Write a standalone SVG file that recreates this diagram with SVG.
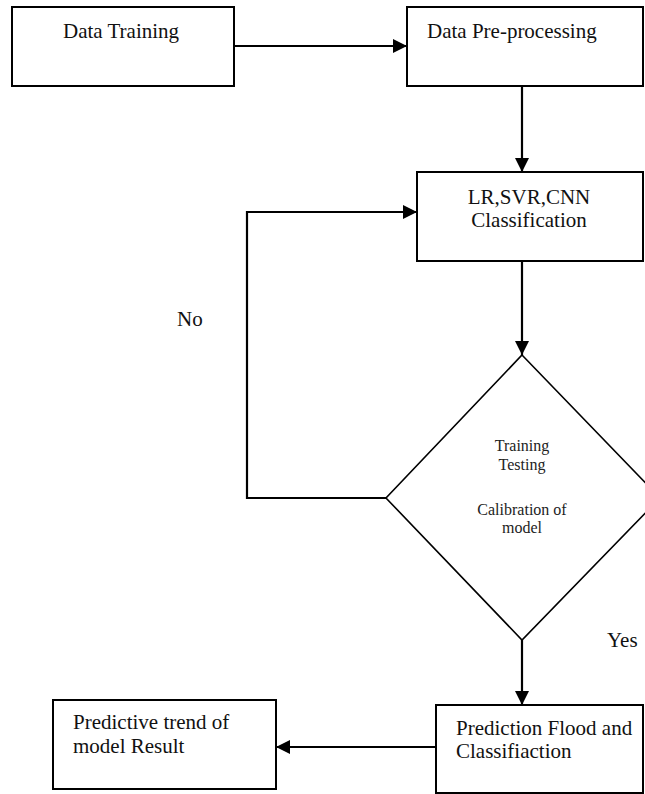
<svg xmlns="http://www.w3.org/2000/svg" width="645" height="794" viewBox="0 0 645 794">
<style>
.box{fill:#fff;stroke:#000;stroke-width:2}
.dia{fill:#fff;stroke:#000;stroke-width:1.6}
.t{font-family:"Liberation Serif","Times New Roman",serif;font-size:21px;fill:#111}
.s{font-family:"Liberation Serif","Times New Roman",serif;font-size:16px;fill:#222;text-anchor:middle}
.c{fill:none;stroke:#000;stroke-width:2.2}
</style>
<defs>
<marker id="ah" viewBox="0 0 14 14" refX="14" refY="7" markerWidth="14" markerHeight="14" markerUnits="userSpaceOnUse" orient="auto">
<path d="M0,0 L14,7 L0,14 Z" fill="#000"/>
</marker>
</defs>
<rect width="645" height="794" fill="#fff"/>
<g id="connectors">
<line class="c" x1="234" y1="46" x2="407" y2="46" marker-end="url(#ah)"/>
<line class="c" x1="522" y1="86" x2="522" y2="172" marker-end="url(#ah)"/>
<line class="c" x1="522" y1="261" x2="522" y2="355" marker-end="url(#ah)"/>
<polyline class="c" points="386,498 247,498 247,212 417,212" marker-end="url(#ah)"/>
<line class="c" x1="522" y1="640" x2="522" y2="705" marker-end="url(#ah)"/>
<line class="c" x1="436" y1="747" x2="276" y2="747" marker-end="url(#ah)"/>
</g>
<g id="n1"><rect class="box" x="12" y="7" width="222" height="79"/><text class="t" x="63" y="38">Data Training</text></g>
<g id="n2"><rect class="box" x="407" y="7" width="236" height="79"/><text class="t" x="427" y="38">Data Pre-processing</text></g>
<g id="n3"><rect class="box" x="417" y="172" width="226" height="89"/><text class="t" x="529" y="204" text-anchor="middle">LR,SVR,CNN</text><text class="t" x="529" y="227" text-anchor="middle">Classification</text></g>
<g id="n4"><polygon class="dia" points="522,355 660,498 522,640 386,498"/><text class="s" x="522" y="451">Training</text><text class="s" x="522" y="470">Testing</text><text class="s" x="522" y="515">Calibration of</text><text class="s" x="522" y="533">model</text></g>
<g id="n5"><rect class="box" x="436" y="705" width="207" height="88"/><text class="t" x="456" y="735">Prediction Flood and</text><text class="t" x="456" y="758">Classifiaction</text></g>
<g id="n6"><rect class="box" x="53" y="700" width="223" height="89"/><text class="t" x="73" y="729">Predictive trend of</text><text class="t" x="73" y="753">model Result</text></g>
<g id="labels"><text class="t" x="177" y="326">No</text><text class="t" x="607" y="647">Yes</text></g>
</svg>
